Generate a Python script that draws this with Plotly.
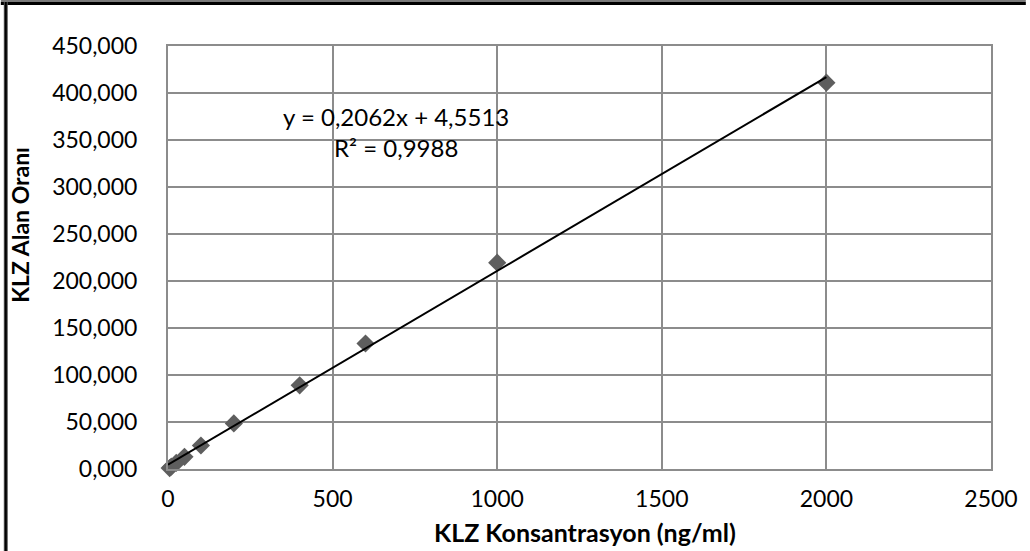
import plotly.graph_objects as go

# Data
konsantrasyon = [5, 10, 25, 50, 100, 200, 400, 600, 1000, 2000]
alan_orani = [1.0, 2.5, 6.5, 13.0, 25.0, 48.5, 89.0, 133.5, 219.5, 411.0]
slope = 0.2062
intercept = 4.5513
r2 = 0.9988
x_ticks = [0, 500, 1000, 1500, 2000, 2500]
y_ticks = [0, 50, 100, 150, 200, 250, 300, 350, 400, 450]

W, H = 1030, 551
L, R, T, B = 168, 35, 46, 82
pw, ph = W - L - R, H - T - B

def px_x(p):
    return (p - L) / pw

def px_y(p):
    return (H - B - p) / ph

FONT = "Lato"
GRID = "#8c8c8c"

fig = go.Figure()

x_line = [min(konsantrasyon), max(konsantrasyon)]
fig.add_trace(go.Scatter(
    x=konsantrasyon, y=alan_orani, mode="markers",
    marker=dict(symbol="diamond", size=14, color="#5e5e5e"),
    showlegend=False, cliponaxis=False,
))
fig.add_trace(go.Scatter(
    x=[0, x_line[1]], y=[intercept, slope * x_line[1] + intercept], mode="lines",
    line=dict(color="black", width=2), showlegend=False,
))

fig.update_layout(
    width=W, height=H,
    margin=dict(l=L, r=R, t=T, b=B, pad=0),
    paper_bgcolor="white", plot_bgcolor="white",
    separators=",.",
    font=dict(family=FONT, size=23, color="#000000"),
    xaxis=dict(range=[0, 2500], tickvals=x_ticks, tickformat="d",
               showgrid=True, gridcolor=GRID, gridwidth=1.5,
               showline=True, linecolor=GRID, linewidth=2, mirror=True,
               zeroline=False, ticks="", ticklabelstandoff=8,
               tickfont=dict(family=FONT, size=23)),
    yaxis=dict(range=[0, 450], tickvals=y_ticks, tickformat=".3f",
               showgrid=True, gridcolor=GRID, gridwidth=1.5,
               showline=True, linecolor=GRID, linewidth=2, mirror=True,
               zeroline=False, ticks="", ticklabelstandoff=24,
               tickfont=dict(family=FONT, size=23)),
    shapes=[
        dict(type="line", xref="paper", yref="paper", x0=px_x(0), x1=px_x(W),
             y0=px_y(1), y1=px_y(1), line=dict(color="#7a7a7a", width=2)),
        dict(type="line", xref="paper", yref="paper", x0=px_x(0), x1=px_x(W),
             y0=px_y(3.5), y1=px_y(3.5), line=dict(color="black", width=3)),
        dict(type="line", xref="paper", yref="paper", x0=px_x(5), x1=px_x(5),
             y0=px_y(2), y1=px_y(H), line=dict(color="#555555", width=4)),
        dict(type="line", xref="paper", yref="paper", x0=px_x(5), x1=px_x(5),
             y0=px_y(2), y1=px_y(H), line=dict(color="black", width=2)),
    ],
    annotations=[
        dict(text="y = 0,2062x + 4,5513", x=692, y=374.5, xref="x", yref="y",
             showarrow=False, font=dict(family=FONT, size=24), xanchor="center", yanchor="middle"),
        dict(text="R² = 0,9988", x=692, y=341.5, xref="x", yref="y",
             showarrow=False, font=dict(family=FONT, size=24), xanchor="center", yanchor="middle"),
        dict(text="<b>KLZ Konsantrasyon (ng/ml)</b>", x=px_x(587), y=px_y(532),
             xref="paper", yref="paper", showarrow=False,
             font=dict(family=FONT, size=25), xanchor="center", yanchor="middle"),
        dict(text="<b>KLZ Alan Oranı</b>", x=px_x(19), y=px_y(225),
             xref="paper", yref="paper", showarrow=False, textangle=-90,
             font=dict(family=FONT, size=23), xanchor="center", yanchor="middle"),
    ],
)

fig.write_html("out.html")
